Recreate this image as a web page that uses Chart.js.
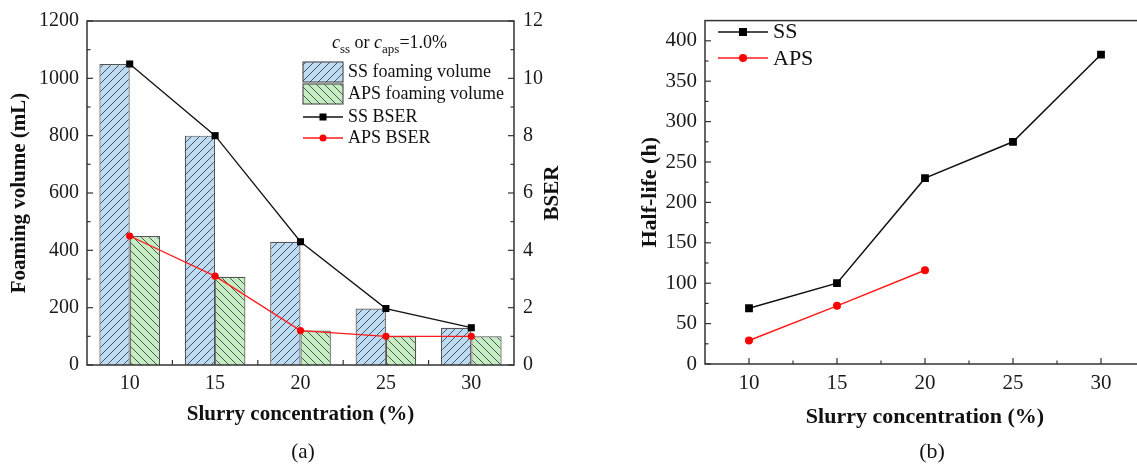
<!DOCTYPE html>
<html>
<head>
<meta charset="utf-8">
<script src="https://cdn.jsdelivr.net/npm/chart.js@4.4.1/dist/chart.umd.min.js"></script>
<style>
  html, body { margin: 0; padding: 0; background: #fff; overflow: hidden; }
  #wrap { position: relative; width: 1137px; height: 464px; overflow: hidden; }
  #chartA { position: absolute; left: 0; top: 0; }
  #chartB { position: absolute; left: 600px; top: 0; }
</style>
</head>
<body>
<div id="wrap">
  <canvas id="chartA" width="575" height="464"></canvas>
  <canvas id="chartB" width="560" height="464"></canvas>
</div>
<script>
// panel (a)
const concLabels = ['10', '15', '20', '25', '30'];
const ssFoam = [1050, 800, 430, 197, 130];
const apsFoam = [450, 308, 120, 100, 100];
const ssBser = [10.5, 8.0, 4.3, 1.97, 1.3];
const apsBser = [4.5, 3.1, 1.2, 1.0, 1.0];

// panel (b)
const concB = [10, 15, 20, 25, 30];
const ssHalf = [69, 100, 230, 275, 383];
const apsHalf = [29, 72, 116];
const halfTicks = [0, 50, 100, 150, 200, 250, 300, 350, 400];

const SERIF = "'Liberation Serif', 'Times New Roman', serif";
const AXIS = '#333';

function hatch(bg, dir) {
  const c = document.createElement('canvas');
  c.width = c.height = 8;
  const g = c.getContext('2d');
  g.fillStyle = bg; g.fillRect(0, 0, 8, 8);
  g.strokeStyle = '#3b4650'; g.lineWidth = 0.9;
  g.beginPath();
  if (dir > 0) { // "/"
    g.moveTo(-1, 9); g.lineTo(9, -1);
    g.moveTo(-1, 1); g.lineTo(1, -1);
    g.moveTo(7, 9); g.lineTo(9, 7);
  } else {       // "\"
    g.moveTo(-1, -1); g.lineTo(9, 9);
    g.moveTo(7, -1); g.lineTo(9, 1);
    g.moveTo(-1, 7); g.lineTo(1, 9);
  }
  g.stroke();
  return g.createPattern(c, 'repeat');
}
const ssFill = hatch('#bddcf3', 1);
const apsFill = hatch('#c6edc1', -1);

function tick(ctx, x1, y1, x2, y2) {
  ctx.beginPath(); ctx.moveTo(x1, y1); ctx.lineTo(x2, y2); ctx.stroke();
}
function text(ctx, str, x, y, font, align, rot) {
  ctx.save();
  ctx.font = font; ctx.fillStyle = '#111';
  ctx.textAlign = align || 'center'; ctx.textBaseline = 'middle';
  ctx.translate(x, y);
  if (rot) ctx.rotate(rot);
  ctx.fillText(str, 0, 0);
  ctx.restore();
}
function marker(ctx, style, x, y, size, color) {
  ctx.fillStyle = color;
  if (style === 'rect') ctx.fillRect(x - size / 2, y - size / 2, size, size);
  else { ctx.beginPath(); ctx.arc(x, y, size / 2, 0, Math.PI * 2); ctx.fill(); }
}

const decorA = {
  id: 'decorA',
  afterDraw(chart) {
    const { ctx, chartArea: a, scales } = chart;
    ctx.save();
    ctx.strokeStyle = AXIS; ctx.lineWidth = 1.5;
    ctx.strokeRect(a.left, a.top, a.right - a.left, a.bottom - a.top);
    ctx.lineWidth = 1.2;
    for (let v = 0; v <= 1200; v += 100) {
      const py = scales.y.getPixelForValue(v);
      tick(ctx, a.left, py, a.left + (v % 200 ? 3.5 : 6), py);
    }
    for (let v = 0; v <= 12; v += 1) {
      const py = scales.y1.getPixelForValue(v);
      tick(ctx, a.right, py, a.right - (v % 2 ? 3.5 : 6), py);
    }
    for (let i = 0; i < concLabels.length - 1; i++) {
      const px = (scales.x.getPixelForValue(i) + scales.x.getPixelForValue(i + 1)) / 2;
      tick(ctx, px, a.bottom, px, a.bottom - 5);
    }

    const B = 'bold 21px ' + SERIF;
    text(ctx, 'Foaming volume (mL)', 20, (a.top + a.bottom) / 2, B, 'center', -Math.PI / 2);
    text(ctx, 'BSER', 553, (a.top + a.bottom) / 2, B, 'center', -Math.PI / 2);
    text(ctx, 'Slurry concentration (%)', (a.left + a.right) / 2, 415, B);
    text(ctx, '(a)', 303, 452, '21px ' + SERIF);

    // legend
    ctx.fillStyle = '#111'; ctx.textBaseline = 'alphabetic'; ctx.textAlign = 'left';
    let x = 332;
    const parts = [
      ['c', 'italic 18px ' + SERIF, 48], ['ss', '13px ' + SERIF, 53],
      [' or ', '18px ' + SERIF, 48], ['c', 'italic 18px ' + SERIF, 48],
      ['aps', '13px ' + SERIF, 53], ['=1.0%', '18px ' + SERIF, 48]
    ];
    for (const [s, f, by] of parts) { ctx.font = f; ctx.fillText(s, x, by); x += ctx.measureText(s).width; }

    const L = '18px ' + SERIF;
    ctx.lineWidth = 1.2; ctx.strokeStyle = '#555';
    ctx.fillStyle = ssFill; ctx.fillRect(303, 62, 40, 20); ctx.strokeRect(303, 62, 40, 20);
    ctx.fillStyle = apsFill; ctx.fillRect(303, 84, 40, 20); ctx.strokeRect(303, 84, 40, 20);
    text(ctx, 'SS foaming volume', 348, 72, L, 'left');
    text(ctx, 'APS foaming volume', 348, 94, L, 'left');
    ctx.lineWidth = 1.3;
    ctx.strokeStyle = '#111'; tick(ctx, 303, 117, 343, 117); marker(ctx, 'rect', 323, 117, 7, '#000');
    ctx.strokeStyle = '#ff1a1a'; tick(ctx, 303, 138, 343, 138); marker(ctx, 'circle', 323, 138, 7, '#ff0000');
    text(ctx, 'SS BSER', 348, 117, L, 'left');
    text(ctx, 'APS BSER', 348, 138, L, 'left');
    ctx.restore();
  }
};

const tickFontA = { family: SERIF, size: 20 };
new Chart(document.getElementById('chartA'), {
  type: 'bar',
  data: {
    labels: concLabels,
    datasets: [
      { label: 'SS foaming volume', data: ssFoam, yAxisID: 'y', backgroundColor: ssFill,
        borderColor: '#555', borderWidth: 1.2, categoryPercentage: 0.71, barPercentage: 1, order: 1 },
      { label: 'APS foaming volume', data: apsFoam, yAxisID: 'y', backgroundColor: apsFill,
        borderColor: '#555', borderWidth: 1.2, categoryPercentage: 0.71, barPercentage: 1, order: 1 },
      { label: 'SS BSER', type: 'line', data: ssBser, yAxisID: 'y1', borderColor: '#111',
        backgroundColor: '#000', borderWidth: 1.3, pointStyle: 'rect', pointRadius: 5, pointBorderWidth: 0, order: 0 },
      { label: 'APS BSER', type: 'line', data: apsBser, yAxisID: 'y1', borderColor: '#ff1a1a',
        backgroundColor: '#ff0000', borderWidth: 1.3, pointStyle: 'circle', pointRadius: 3.6, pointBorderWidth: 0, order: 0 }
    ]
  },
  options: {
    responsive: false, animation: false,
    layout: { padding: { top: 21, left: 0, right: 0, bottom: 0 } },
    plugins: { legend: { display: false }, tooltip: { enabled: false } },
    scales: {
      x: {
        offset: true, grid: { display: false, drawTicks: false }, border: { display: false },
        ticks: { font: tickFontA, color: '#1a1a1a', padding: 7 },
        afterFit: s => { s.height = 99; }
      },
      y: {
        min: 0, max: 1200, grid: { display: false, drawTicks: false }, border: { display: false },
        ticks: { stepSize: 200, format: { useGrouping: false }, font: tickFontA, color: '#1a1a1a', padding: 8 },
        afterFit: s => { s.width = 87; }
      },
      y1: {
        position: 'right', min: 0, max: 12, grid: { display: false, drawTicks: false }, border: { display: false },
        ticks: { stepSize: 2, font: tickFontA, color: '#1a1a1a', padding: 9 },
        afterFit: s => { s.width = 61; }
      }
    }
  },
  plugins: [decorA]
});

const decorB = {
  id: 'decorB',
  afterDraw(chart) {
    const { ctx, chartArea: a, scales } = chart;
    ctx.save();
    ctx.strokeStyle = AXIS; ctx.lineWidth = 1.5;
    ctx.strokeRect(a.left, a.top, a.right - a.left, a.bottom - a.top);
    ctx.lineWidth = 1.2;
    for (let v = 0; v <= 400; v += 25) {
      const py = scales.y.getPixelForValue(v);
      tick(ctx, a.left, py, a.left + (v % 50 ? 3.5 : 6), py);
    }
    for (let v = 10; v <= 30; v += 2.5) {
      const px = scales.x.getPixelForValue(v);
      tick(ctx, px, a.bottom, px, a.bottom - (v % 5 ? 3.5 : 6));
    }
    const B = 'bold 22px ' + SERIF;
    text(ctx, 'Half-life (h)', 50, (a.top + a.bottom) / 2, B, 'center', -Math.PI / 2);
    text(ctx, 'Slurry concentration (%)', 325, 417, B);
    text(ctx, '(b)', 332, 452, '22px ' + SERIF);

    ctx.lineWidth = 1.5;
    ctx.strokeStyle = '#111'; tick(ctx, 118, 32, 168, 32); marker(ctx, 'rect', 143, 32, 8, '#000');
    ctx.strokeStyle = '#ff1a1a'; tick(ctx, 118, 58, 168, 58); marker(ctx, 'circle', 143, 58, 8, '#ff0000');
    text(ctx, 'SS', 173, 32, '22px ' + SERIF, 'left');
    text(ctx, 'APS', 173, 59, '22px ' + SERIF, 'left');
    ctx.restore();
  }
};

const tickFontB = { family: SERIF, size: 21 };
new Chart(document.getElementById('chartB'), {
  type: 'line',
  data: {
    datasets: [
      { label: 'SS', data: concB.map((x, i) => ({ x, y: ssHalf[i] })), borderColor: '#111',
        backgroundColor: '#000', borderWidth: 1.5, pointStyle: 'rect', pointRadius: 5.5, pointBorderWidth: 0 },
      { label: 'APS', data: apsHalf.map((y, i) => ({ x: concB[i], y })), borderColor: '#ff1a1a',
        backgroundColor: '#ff0000', borderWidth: 1.5, pointStyle: 'circle', pointRadius: 4, pointBorderWidth: 0 }
    ]
  },
  options: {
    responsive: false, animation: false,
    layout: { padding: { top: 9, left: 0, right: 15, bottom: 0 } },
    plugins: { legend: { display: false }, tooltip: { enabled: false } },
    scales: {
      x: {
        type: 'linear', min: 7.5, max: 32.5,
        afterBuildTicks: s => { s.ticks = concB.map(v => ({ value: v })); },
        grid: { display: false, drawTicks: false }, border: { display: false },
        ticks: { font: tickFontB, color: '#1a1a1a', padding: 7 },
        afterFit: s => { s.height = 100; }
      },
      y: {
        min: 0, max: 425,
        afterBuildTicks: s => { s.ticks = halfTicks.map(v => ({ value: v })); },
        grid: { display: false, drawTicks: false }, border: { display: false },
        ticks: { font: tickFontB, color: '#1a1a1a', padding: 8 },
        afterFit: s => { s.width = 105; }
      }
    }
  },
  plugins: [decorB]
});
</script>
</body>
</html>
